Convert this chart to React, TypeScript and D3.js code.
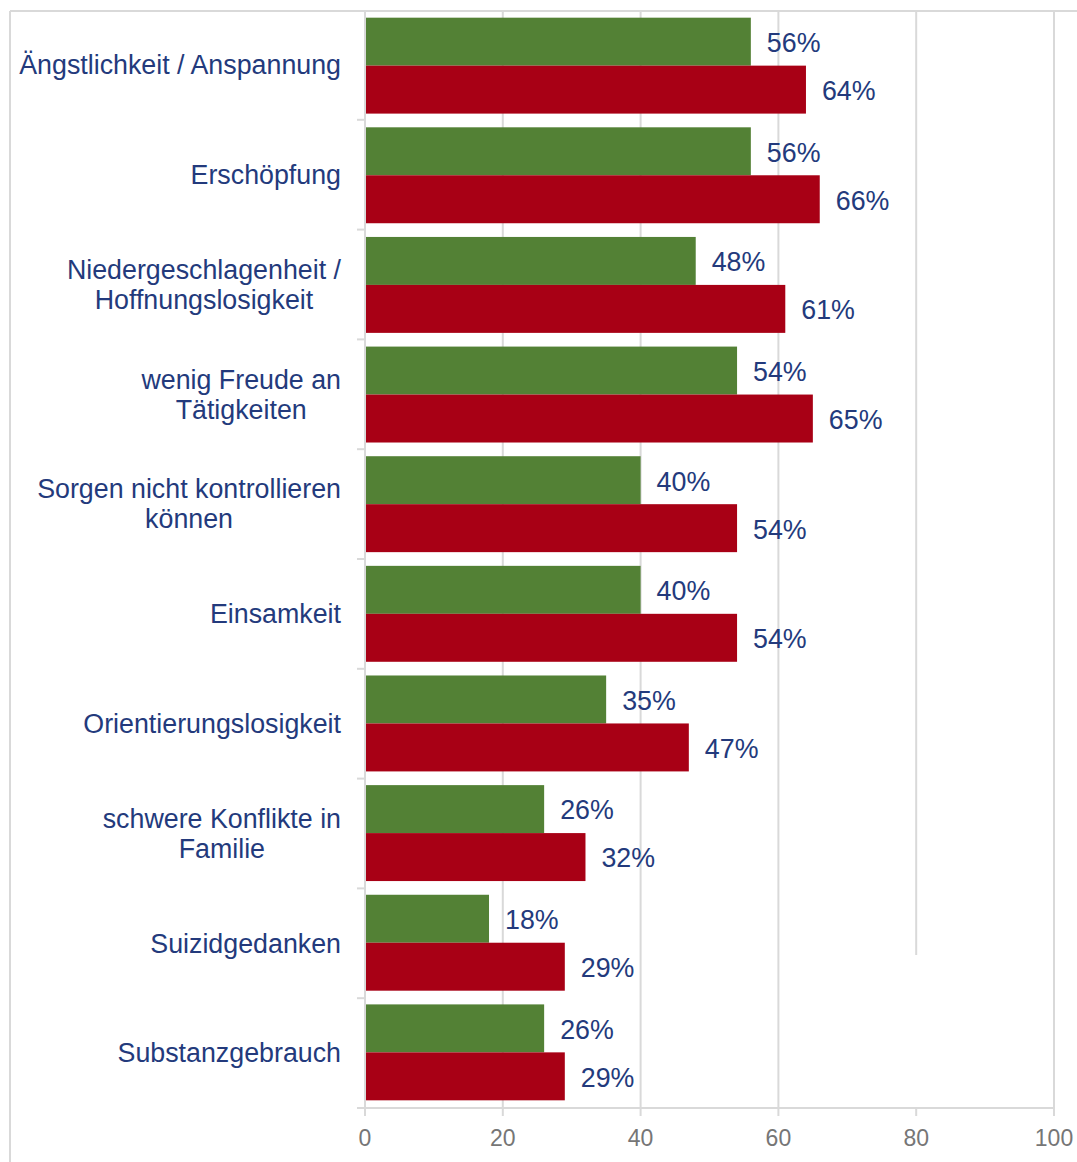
import React, { useEffect, useRef } from "react";
import * as d3 from "d3";

const categories: string[][] = [
  ["Ängstlichkeit / Anspannung"],
  ["Erschöpfung"],
  ["Niedergeschlagenheit /", "Hoffnungslosigkeit"],
  ["wenig Freude an", "Tätigkeiten"],
  ["Sorgen nicht kontrollieren", "können"],
  ["Einsamkeit"],
  ["Orientierungslosigkeit"],
  ["schwere Konflikte in", "Familie"],
  ["Suizidgedanken"],
  ["Substanzgebrauch"],
];
const greenValues = [56, 56, 48, 54, 40, 40, 35, 26, 18, 26];
const redValues = [64, 66, 61, 65, 54, 54, 47, 32, 29, 29];
const xTicks = [0, 20, 40, 60, 80, 100];
const seriesKeys = ["green", "red"];

const W = 1077;
const H = 1162;
const GREEN = "#538135";
const RED = "#A80015";
const NAVY = "#233A7C";
const GRID = "#d9d9d9";
const FONT = "'Liberation Sans', Arial, sans-serif";

export default function App() {
  const ref = useRef<SVGSVGElement>(null);

  useEffect(() => {
    const svg = d3.select(ref.current);
    svg.selectAll("*").remove();

    const left = 365, right = 1054, top = 10, bottom = 1108;
    const x = d3.scaleLinear().domain([0, 100]).range([left, right]);
    const idx = categories.map((_, i) => String(i));
    const y = d3.scaleBand().domain(idx).range([top, bottom]).paddingInner(0.125).paddingOuter(0.07);
    const ySub = d3.scaleBand().domain(seriesKeys).range([0, y.bandwidth()]);
    const yOuter = d3.scaleBand().domain(idx).range([top, bottom]);

    // frame
    svg.append("line").attr("x1", 10).attr("x2", W).attr("y1", 11).attr("y2", 11)
      .attr("stroke", GRID).attr("stroke-width", 2);
    svg.append("line").attr("x1", 10).attr("x2", 10).attr("y1", 11).attr("y2", H)
      .attr("stroke", GRID).attr("stroke-width", 2);

    // gridlines
    xTicks.filter((t) => t > 0).forEach((t) => {
      svg.append("line")
        .attr("x1", x(t)).attr("x2", x(t))
        .attr("y1", 11).attr("y2", t === 80 ? 955 : bottom)
        .attr("stroke", GRID).attr("stroke-width", 2);
    });

    // bars
    const data = categories.map((c, i) => ({ i: String(i), green: greenValues[i], red: redValues[i] }));
    const g = svg.append("g");
    data.forEach((d) => {
      seriesKeys.forEach((k) => {
        const v = (d as any)[k] as number;
        const yy = (y(d.i) as number) + (ySub(k) as number);
        g.append("rect")
          .attr("x", x(0) + 1).attr("y", yy)
          .attr("width", x(v) - x(0) - 1).attr("height", ySub.bandwidth())
          .attr("fill", k === "green" ? GREEN : RED);
        g.append("text")
          .attr("x", x(v) + 16).attr("y", yy + ySub.bandwidth() / 2 + 1)
          .attr("dy", "0.35em")
          .attr("font-family", FONT).attr("font-size", 26.8).attr("fill", NAVY)
          .text(`${v}%`);
      });
    });

    // y axis
    svg.append("line").attr("x1", left).attr("x2", left).attr("y1", 11).attr("y2", bottom)
      .attr("stroke", GRID).attr("stroke-width", 2);
    idx.forEach((k) => {
      const yy = yOuter(k) as number;
      if (yy > top + 1) {
        svg.append("line").attr("x1", left - 8).attr("x2", left).attr("y1", yy).attr("y2", yy)
          .attr("stroke", GRID).attr("stroke-width", 2);
      }
    });
    svg.append("line").attr("x1", left - 8).attr("x2", left).attr("y1", bottom).attr("y2", bottom)
      .attr("stroke", GRID).attr("stroke-width", 2);

    // x axis
    svg.append("line").attr("x1", left).attr("x2", right).attr("y1", bottom).attr("y2", bottom)
      .attr("stroke", GRID).attr("stroke-width", 2);
    xTicks.forEach((t) => {
      svg.append("line").attr("x1", x(t)).attr("x2", x(t)).attr("y1", bottom).attr("y2", bottom + 8)
        .attr("stroke", GRID).attr("stroke-width", 2);
      svg.append("text").attr("x", x(t)).attr("y", 1146)
        .attr("text-anchor", "middle").attr("font-family", FONT).attr("font-size", 23)
        .attr("fill", "#767676").text(String(t));
    });

    // category labels
    const labelRight = 341;
    const lineH = 30;
    categories.forEach((lines, i) => {
      const cy = (yOuter(String(i)) as number) + yOuter.bandwidth() / 2;
      const lg = svg.append("g");
      const texts = lines.map((ln, j) =>
        lg.append("text")
          .attr("y", cy + (j - (lines.length - 1) / 2) * lineH)
          .attr("dy", "0.35em")
          .attr("font-family", FONT).attr("font-size", 26.8).attr("fill", NAVY)
          .attr("text-anchor", "middle")
          .text(ln)
      );
      const widths = texts.map((t) => (t.node() as SVGTextElement).getComputedTextLength());
      const maxW = d3.max(widths) || 0;
      texts.forEach((t) => t.attr("x", labelRight - maxW / 2));
    });
  }, []);

  return (
    <svg
      ref={ref}
      width={W}
      height={H}
      style={{ position: "absolute", left: 0, top: 0, background: "#fff" }}
    />
  );
}
